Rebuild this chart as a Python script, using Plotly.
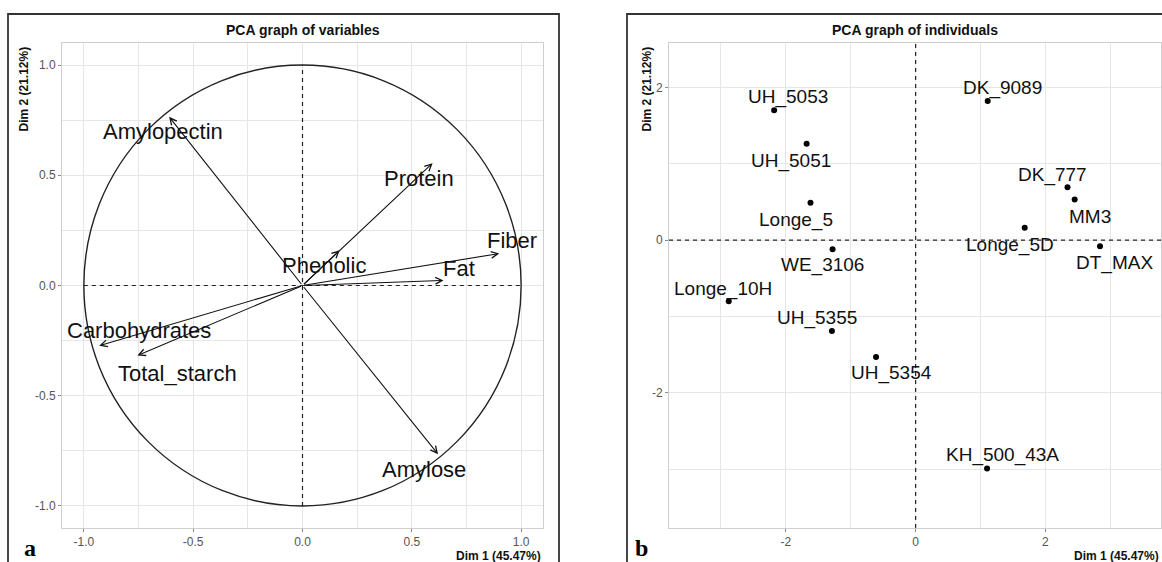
import plotly.graph_objects as go

# ---------------- data ----------------
var_names = ['Amylopectin', 'Protein', 'Phenolic', 'Fiber', 'Fat',
             'Carbohydrates', 'Total_starch', 'Amylose']
var_dim1 = [-0.61, 0.595, 0.17, 0.90, 0.645, -0.93, -0.755, 0.62]
var_dim2 = [0.765, 0.555, 0.16, 0.145, 0.023, -0.273, -0.318, -0.765]

ind_names = ['UH_5053', 'UH_5051', 'Longe_5', 'WE_3106', 'Longe_10H', 'UH_5355',
             'UH_5354', 'DK_9089', 'DK_777', 'MM3', 'Longe_5D', 'DT_MAX', 'KH_500_43A']
ind_dim1 = [-2.18, -1.68, -1.62, -1.28, -2.88, -1.29, -0.61,
            1.11, 2.34, 2.45, 1.68, 2.84, 1.10]
ind_dim2 = [1.70, 1.26, 0.49, -0.12, -0.80, -1.19, -1.53,
            1.82, 0.69, 0.53, 0.16, -0.08, -2.99]

var_ticks = [-1.0, -0.5, 0.0, 0.5, 1.0]
ind_ticks = [-2, 0, 2]

# ---------------- style ----------------
W, H = 1162, 562
FONT = 'Liberation Sans, Arial, sans-serif'
# label pixel offsets (dx right, dy down) relative to arrow tip / point
var_off = {'Amylopectin': (-6, 15), 'Protein': (-14, 15), 'Phenolic': (-16, 15),
           'Fiber': (13, -13), 'Fat': (15, -12), 'Carbohydrates': (40, -15),
           'Total_starch': (40, 18), 'Amylose': (-14, 15)}
ind_off = {'UH_5053': (14, -13), 'UH_5051': (-16, 17), 'Longe_5': (-15, 17),
           'WE_3106': (-10, 16), 'Longe_10H': (-6, -12), 'UH_5355': (-15, -13),
           'UH_5354': (15, 16), 'DK_9089': (15, -13), 'DK_777': (-15, -12),
           'MM3': (15, 17), 'Longe_5D': (-15, 17), 'DT_MAX': (15, 17),
           'KH_500_43A': (15, -13)}

dom_y = [1 - 528 / H, 1 - 43 / H]
dom_x1 = [62 / W, 543 / W]
dom_x2 = [669 / W, 1161 / W]

fig = go.Figure()

# individuals points
fig.add_trace(go.Scatter(x=ind_dim1, y=ind_dim2, mode='markers', xaxis='x2', yaxis='y2',
                         marker=dict(color='black', size=6), showlegend=False,
                         hoverinfo='skip'))
# invisible trace to register first axes
fig.add_trace(go.Scatter(x=var_dim1, y=var_dim2, mode='markers', xaxis='x', yaxis='y',
                         marker=dict(color='rgba(0,0,0,0)', size=1), showlegend=False,
                         hoverinfo='skip'))

grid_c = '#e6e6e6'
tick_font = dict(family=FONT, size=12, color='#555555')
common = dict(showgrid=True, gridcolor=grid_c, gridwidth=1, zeroline=False,
              showline=True, linecolor='#cfcfcf', linewidth=1, mirror=True,
              ticks='outside', ticklen=3, tickcolor='#888888', tickfont=tick_font)

fig.update_layout(
    width=W, height=H, margin=dict(l=0, r=0, t=0, b=0),
    paper_bgcolor='white', plot_bgcolor='white', showlegend=False,
    xaxis=dict(domain=dom_x1, range=[-1.1, 1.1], anchor='y', tickvals=var_ticks,
               ticktext=['%.1f' % t for t in var_ticks],
               minor=dict(dtick=0.25, tick0=0, showgrid=True, gridcolor=grid_c, gridwidth=0.6, ticks=''),
               **common),
    yaxis=dict(domain=dom_y, range=[-1.1, 1.1], anchor='x', tickvals=var_ticks,
               ticktext=['%.1f' % t for t in var_ticks],
               minor=dict(dtick=0.25, tick0=0, showgrid=True, gridcolor=grid_c, gridwidth=0.6, ticks=''),
               **common),
    xaxis2=dict(domain=dom_x2, range=[-3.8, 3.78], anchor='y2', tickvals=ind_ticks,
                ticktext=['%d' % t for t in ind_ticks],
                minor=dict(dtick=1, tick0=1, showgrid=True, gridcolor=grid_c, gridwidth=0.6, ticks=''),
                **common),
    yaxis2=dict(domain=dom_y, range=[-3.77, 2.58], anchor='x2', tickvals=ind_ticks,
                ticktext=['%d' % t for t in ind_ticks],
                minor=dict(dtick=1, tick0=1, showgrid=True, gridcolor=grid_c, gridwidth=0.6, ticks=''),
                **common),
)

shapes = []
# outer boxes
shapes.append(dict(type='rect', xref='paper', yref='paper', x0=8 / W, x1=559 / W,
                   y0=-0.05, y1=1 - 14 / H, line=dict(color='#333333', width=1.8)))
shapes.append(dict(type='rect', xref='paper', yref='paper', x0=627 / W, x1=1.05,
                   y0=-0.05, y1=1 - 14 / H, line=dict(color='#333333', width=1.8)))
# correlation circle
shapes.append(dict(type='circle', xref='x', yref='y', x0=-1, y0=-1, x1=1, y1=1,
                   line=dict(color='#222222', width=1.4)))
# dashed axes, left
shapes.append(dict(type='line', xref='x', yref='y', x0=-1, x1=1, y0=0, y1=0,
                   line=dict(color='#222222', width=1.2, dash='4px,4px')))
shapes.append(dict(type='line', xref='x', yref='y', x0=0, x1=0, y0=-1, y1=1,
                   line=dict(color='#222222', width=1.2, dash='4px,4px')))
# dashed axes, right
shapes.append(dict(type='line', xref='x2 domain', yref='y2', x0=0, x1=1, y0=0, y1=0,
                   line=dict(color='#222222', width=1.2, dash='4px,4px')))
shapes.append(dict(type='line', xref='x2', yref='y2 domain', x0=0, x1=0, y0=0, y1=1,
                   line=dict(color='#222222', width=1.2, dash='4px,4px')))
fig.update_layout(shapes=shapes)

ann = []
# arrows
for n, a, b in zip(var_names, var_dim1, var_dim2):
    ann.append(dict(x=a, y=b, xref='x', yref='y', ax=0, ay=0, axref='x', ayref='y',
                    text='', showarrow=True, arrowhead=5, arrowsize=1.2, arrowwidth=1.1,
                    arrowcolor='#111111', standoff=0, startstandoff=0))
    dx, dy = var_off[n]
    ann.append(dict(x=a, y=b, xref='x', yref='y', text=n, showarrow=False,
                    xshift=dx, yshift=-dy, xanchor='center', yanchor='middle',
                    font=dict(family=FONT, size=22, color='#111111')))
# individual labels
for n, a, b in zip(ind_names, ind_dim1, ind_dim2):
    dx, dy = ind_off[n]
    ann.append(dict(x=a, y=b, xref='x2', yref='y2', text=n, showarrow=False,
                    xshift=dx, yshift=-dy, xanchor='center', yanchor='middle',
                    font=dict(family=FONT, size=19, color='#111111')))

title_font = dict(family=FONT, size=14, color='#111111')
axt_font = dict(family=FONT, size=12, color='#111111')
ann += [
    dict(x=(dom_x1[0] + dom_x1[1]) / 2, y=1 - 30 / H, xref='paper', yref='paper',
         xanchor='center', yanchor='middle',
         text='<b>PCA graph of variables</b>', showarrow=False, font=title_font),
    dict(x=(dom_x2[0] + dom_x2[1]) / 2, y=1 - 30 / H, xref='paper', yref='paper',
         xanchor='center', yanchor='middle',
         text='<b>PCA graph of individuals</b>', showarrow=False, font=title_font),
    dict(x=dom_x1[1], y=1 - 556 / H, xref='paper', yref='paper', xanchor='right',
         yanchor='middle', text='<b>Dim 1 (45.47%)</b>', showarrow=False, font=axt_font),
    dict(x=dom_x2[1], y=1 - 556 / H, xref='paper', yref='paper', xanchor='right',
         yanchor='middle', text='<b>Dim 1 (45.47%)</b>', showarrow=False, font=axt_font),
    dict(x=23 / W, y=1 - 45 / H, xref='paper', yref='paper', xanchor='center',
         yanchor='top', textangle=-90, text='<b>Dim 2 (21.12%)</b>', showarrow=False,
         font=axt_font),
    dict(x=646 / W, y=1 - 45 / H, xref='paper', yref='paper', xanchor='center',
         yanchor='top', textangle=-90, text='<b>Dim 2 (21.12%)</b>', showarrow=False,
         font=axt_font),
    dict(x=30 / W, y=1 - 548 / H, xref='paper', yref='paper', xanchor='center',
         yanchor='middle', text='<b>a</b>', showarrow=False,
         font=dict(family='Liberation Serif, Times New Roman, serif', size=24, color='black')),
    dict(x=641 / W, y=1 - 548 / H, xref='paper', yref='paper', xanchor='center',
         yanchor='middle', text='<b>b</b>', showarrow=False,
         font=dict(family='Liberation Serif, Times New Roman, serif', size=24, color='black')),
]
fig.update_layout(annotations=ann)

fig.write_html('out.html', config={'displayModeBar': False},
               post_script="document.body.style.margin='0';document.body.style.overflow='hidden';")
